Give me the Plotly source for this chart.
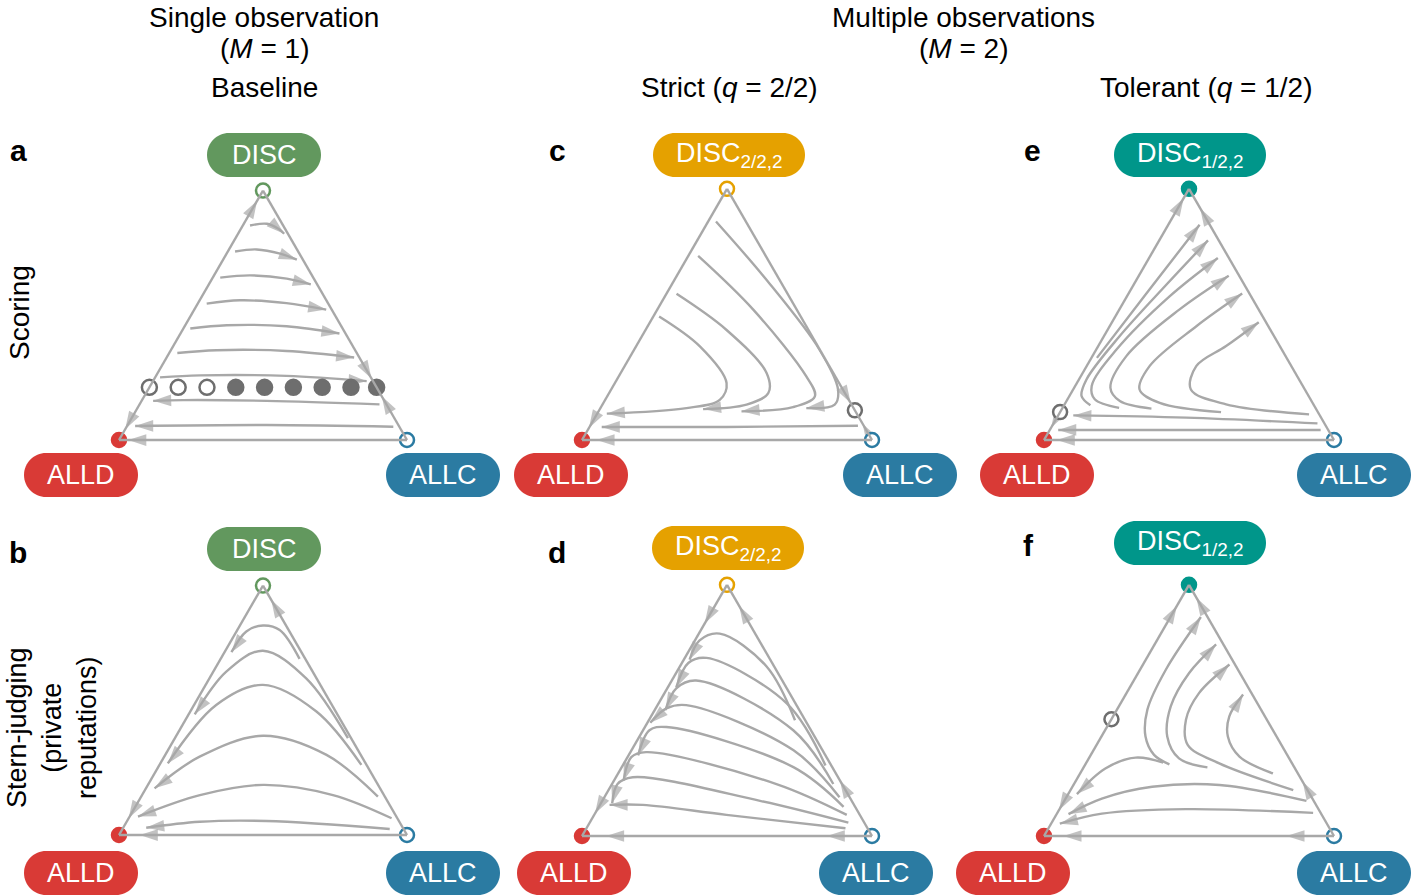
import math
import plotly.graph_objects as go

# ---------------- data: points given as (DISC, ALLC) frequencies; ALLD = 1 - DISC - ALLC
A_LINES = [
    [(0.860, 0.025), (0.867, 0.080), (0.847, 0.130), (0.827, 0.160)],
    [(0.756, 0.025), (0.764, 0.096), (0.747, 0.186), (0.723, 0.256)],
    [(0.651, 0.026), (0.660, 0.125), (0.647, 0.259), (0.624, 0.354)],
    [(0.547, 0.031), (0.560, 0.140), (0.549, 0.307), (0.523, 0.458)],
    [(0.447, 0.024), (0.460, 0.144), (0.456, 0.354), (0.427, 0.552)],
    [(0.349, 0.028), (0.360, 0.159), (0.357, 0.403), (0.331, 0.651)],
    [(0.251, 0.017), (0.259, 0.152), (0.257, 0.453), (0.236, 0.742)],
    [(0.143, 0.833), (0.157, 0.434), (0.160, 0.143), (0.157, 0.040)],
    [(0.053, 0.926), (0.060, 0.483), (0.056, 0.028)],
]
A_EDGE = [((0.90, 0.0), (0.96, 0.0)), ((0.10, 0.0), (0.043, 0.0)),
          ((0.30, 0.70), (0.247, 0.753)), ((0.12, 0.88), (0.175, 0.825)),
          ((0.0, 0.10), (0.0, 0.032))]
A_FIX_DISC = 0.211
A_FIX_ALLC = [0.0, 0.1, 0.2, 0.3, 0.4, 0.5, 0.6, 0.7, 0.789]
A_FIX_STABLE = [False, False, False, True, True, True, True, True, True]

B_LINES = [
    [(0.706, 0.274), (0.822, 0.147), (0.840, 0.080), (0.816, 0.034), (0.733, 0.024)],
    [(0.388, 0.601), (0.628, 0.336), (0.739, 0.130), (0.655, 0.045), (0.484, 0.021)],
    [(0.281, 0.701), (0.495, 0.438), (0.602, 0.199), (0.521, 0.077), (0.287, 0.026)],
    [(0.154, 0.822), (0.321, 0.560), (0.398, 0.301), (0.314, 0.123), (0.187, 0.030)],
    [(0.067, 0.913), (0.160, 0.663), (0.201, 0.400), (0.160, 0.201), (0.074, 0.029)],
    [(0.024, 0.928), (0.056, 0.484), (0.053, 0.254), (0.029, 0.080)],
]
B_EDGE = [((0.90, 0.10), (0.943, 0.057)), ((0.12, 0.0), (0.067, 0.0)),
          ((0.0, 0.14), (0.0, 0.072))]

C_LINES = [
    [(0.492, 0.020), (0.373, 0.220), (0.227, 0.385), (0.160, 0.395), (0.127, 0.297), (0.105, 0.033)],
    [(0.582, 0.035), (0.439, 0.278), (0.267, 0.503), (0.187, 0.549), (0.141, 0.497), (0.123, 0.356)],
    [(0.733, 0.034), (0.519, 0.331), (0.253, 0.647), (0.174, 0.716), (0.131, 0.662), (0.114, 0.493)],
    [(0.870, 0.027), (0.638, 0.317), (0.359, 0.640), (0.200, 0.783), (0.141, 0.801), (0.127, 0.710)],
    [(0.057, 0.923), (0.052, 0.472), (0.052, 0.042)],
]
C_EDGE = [((0.20, 0.80), (0.147, 0.853)), ((0.03, 0.97), (0.065, 0.935)),
          ((0.10, 0.0), (0.048, 0.0)), ((0.0, 0.12), (0.0, 0.05))]
C_SADDLE = (0.118, 0.882)

E_LINES = [
    [(0.327, 0.019), (0.592, 0.063), (0.857, 0.108)],
    [(0.138, 0.091), (0.175, 0.042), (0.241, 0.026), (0.413, 0.054), (0.619, 0.113), (0.795, 0.168)],
    [(0.128, 0.195), (0.162, 0.094), (0.215, 0.057), (0.360, 0.070), (0.572, 0.147), (0.725, 0.237)],
    [(0.125, 0.308), (0.155, 0.184), (0.208, 0.125), (0.334, 0.117), (0.519, 0.207), (0.654, 0.310)],
    [(0.111, 0.555), (0.148, 0.325), (0.201, 0.229), (0.294, 0.217), (0.453, 0.299), (0.583, 0.392)],
    [(0.102, 0.863), (0.142, 0.557), (0.201, 0.406), (0.294, 0.378), (0.374, 0.441), (0.469, 0.506)],
    [(0.066, 0.910), (0.089, 0.446), (0.098, 0.052)],
    [(0.040, 0.934), (0.040, 0.470), (0.040, 0.029)],
]
E_EDGE = [((0.90, 0.0), (0.963, 0.0)), ((0.09, 0.0), (0.049, 0.0)),
          ((0.88, 0.12), (0.923, 0.077)), ((0.0, 0.10), (0.0, 0.044))]
E_SADDLE = (0.111, 0.0)

D_LINES = [
    [(0.461, 0.504), (0.675, 0.299), (0.806, 0.072), (0.779, 0.016), (0.702, 0.020)],
    [(0.281, 0.699), (0.528, 0.442), (0.709, 0.075), (0.689, 0.022), (0.592, 0.029)],
    [(0.207, 0.763), (0.421, 0.518), (0.619, 0.084), (0.588, 0.031), (0.501, 0.037)],
    [(0.154, 0.811), (0.341, 0.559), (0.521, 0.099), (0.508, 0.037), (0.451, 0.010)],
    [(0.116, 0.844), (0.274, 0.592), (0.434, 0.074), (0.421, 0.022), (0.321, 0.033)],
    [(0.084, 0.871), (0.207, 0.567), (0.334, 0.054), (0.314, 0.013), (0.221, 0.033)],
    [(0.053, 0.892), (0.140, 0.544), (0.234, 0.058), (0.207, 0.019), (0.130, 0.039)],
    [(0.031, 0.893), (0.084, 0.456), (0.124, 0.148), (0.124, 0.033)],
]
D_EDGE = [((0.87, 0.13), (0.916, 0.084)), ((0.17, 0.83), (0.221, 0.779)),
          ((0.90, 0.0), (0.846, 0.0)), ((0.14, 0.0), (0.090, 0.0)),
          ((0.0, 0.90), (0.0, 0.844)), ((0.0, 0.13), (0.0, 0.083))]

F_LINES = [
    [(0.285, 0.290), (0.323, 0.218), (0.396, 0.152), (0.503, 0.105), (0.663, 0.089), (0.872, 0.105)],
    [(0.273, 0.427), (0.309, 0.311), (0.396, 0.227), (0.516, 0.179), (0.649, 0.176), (0.763, 0.212)],
    [(0.183, 0.768), (0.289, 0.460), (0.363, 0.314), (0.463, 0.258), (0.569, 0.250), (0.683, 0.298)],
    [(0.249, 0.665), (0.316, 0.516), (0.396, 0.436), (0.476, 0.401), (0.563, 0.405)],
    [(0.292, 0.265), (0.312, 0.160), (0.269, 0.077), (0.167, 0.030)],
    [(0.140, 0.835), (0.203, 0.504), (0.196, 0.275), (0.149, 0.125), (0.087, 0.041)],
    [(0.092, 0.882), (0.107, 0.436), (0.089, 0.155), (0.049, 0.030)],
]
F_EDGE = [((0.87, 0.0), (0.916, 0.0)), ((0.15, 0.0), (0.103, 0.0)),
          ((0.90, 0.10), (0.949, 0.051)), ((0.17, 0.83), (0.216, 0.784)),
          ((0.0, 0.88), (0.0, 0.836)), ((0.0, 0.11), (0.0, 0.067))]
F_SADDLE = (0.465, 0.0)

# vertex state: True = stable (filled), False = unstable (open); order DISC, ALLD, ALLC
A_VERT = [False, True, False]
B_VERT = [False, True, False]
C_VERT = [False, True, False]
D_VERT = [False, True, False]
E_VERT = [True, True, False]
F_VERT = [True, True, False]

DISC_LABELS = ['DISC', 'DISC', 'DISC<sub>2/2,2</sub>', 'DISC<sub>2/2,2</sub>',
               'DISC<sub>1/2,2</sub>', 'DISC<sub>1/2,2</sub>']

# ---------------- styling
W, H = 1412, 896
GRAY = '#a8a8a8'
FIXC = '#6e6e6e'
RED = '#d93a36'
BLUE = '#2b7ba2'
DISC_COLORS = ['#62985e', '#62985e', '#e5a100', '#e5a100', '#00968a', '#00968a']
FONT = 'Liberation Sans, Arial, sans-serif'
ARROW = 19

# panel geometry (pixels): left-bottom vertex x, base y, base width
GEOM = {
    'ternary':  (119, 440, 288),
    'ternary2': (119, 835, 288),
    'ternary3': (582, 440, 290),
    'ternary4': (582, 836, 290),
    'ternary5': (1044, 440, 290),
    'ternary6': (1044, 836, 290),
}


def domain(lx, yb, base):
    h = base * math.sqrt(3) / 2
    yc = yb - h / 2
    hb = h + 8
    return dict(x=[lx / W, (lx + base) / W], y=[1 - (yc + hb / 2) / H, 1 - (yc - hb / 2) / H])


def abc(pts):
    a = [p[0] for p in pts]
    c = [p[1] for p in pts]
    b = [max(0.0, 1 - p[0] - p[1]) for p in pts]
    return a, b, c


fig = go.Figure()

panels = [
    ('ternary', A_LINES, A_EDGE, A_VERT, None, 0),
    ('ternary2', B_LINES, B_EDGE, B_VERT, None, 1),
    ('ternary3', C_LINES, C_EDGE, C_VERT, C_SADDLE, 2),
    ('ternary4', D_LINES, D_EDGE, D_VERT, None, 3),
    ('ternary5', E_LINES, E_EDGE, E_VERT, E_SADDLE, 4),
    ('ternary6', F_LINES, F_EDGE, F_VERT, F_SADDLE, 5),
]

for sub, lines, edges, verts, saddle, idx in panels:
    for ln in lines:
        a, b, c = abc(ln)
        fig.add_trace(go.Scatterternary(a=a, b=b, c=c, mode='lines', subplot=sub,
                                        line=dict(color=GRAY, width=2.4, shape='spline', smoothing=1.0),
                                        hoverinfo='skip', showlegend=False))
    # arrowheads: one pair (tail, head) per streamline end and per edge arrow
    pairs = [(ln[-2], ln[-1]) for ln in lines] + list(edges)
    pts, sizes = [], []
    for t, hd in pairs:
        pts += [t, hd]
        sizes += [0, ARROW]
    a, b, c = abc(pts)
    fig.add_trace(go.Scatterternary(a=a, b=b, c=c, mode='markers', subplot=sub, cliponaxis=False,
                                    marker=dict(symbol='arrow', size=sizes, color=GRAY,
                                                angleref='previous', line=dict(width=0)),
                                    hoverinfo='skip', showlegend=False))
    # extra fixed points
    if idx == 0:
        pts = [(A_FIX_DISC, x) for x in A_FIX_ALLC]
        a, b, c = abc(pts)
        fig.add_trace(go.Scatterternary(a=a, b=b, c=c, mode='markers', subplot=sub, cliponaxis=False,
                                        marker=dict(size=15, symbol='circle',
                                                    color=[FIXC if s else 'white' for s in A_FIX_STABLE],
                                                    line=dict(color=FIXC, width=2.5)),
                                        hoverinfo='skip', showlegend=False))
    if saddle is not None:
        a, b, c = abc([saddle])
        fig.add_trace(go.Scatterternary(a=a, b=b, c=c, mode='markers', subplot=sub, cliponaxis=False,
                                        marker=dict(size=14, color='white', line=dict(color=FIXC, width=2.5)),
                                        hoverinfo='skip', showlegend=False))
    # vertices DISC, ALLD, ALLC
    vcols = [DISC_COLORS[idx], RED, BLUE]
    fig.add_trace(go.Scatterternary(a=[1, 0, 0], b=[0, 1, 0], c=[0, 0, 1], mode='markers', subplot=sub,
                                    cliponaxis=False,
                                    marker=dict(size=14, color=[vc if s else 'white' for vc, s in zip(vcols, verts)],
                                                line=dict(color=vcols, width=2.5)),
                                    hoverinfo='skip', showlegend=False))

axis_style = dict(showline=True, linecolor=GRAY, linewidth=2.4, showgrid=False,
                  showticklabels=False, ticks='', title=dict(text=''))
layout_tern = {}
for sub, (lx, yb, base) in GEOM.items():
    layout_tern[sub] = dict(domain=domain(lx, yb, base), sum=1, bgcolor='rgba(0,0,0,0)',
                            aaxis=axis_style, baxis=axis_style, caxis=axis_style)


def pill(w, h):
    r = h / 2
    s = w / 2 - r
    k = 0.5523 * r
    return (f"M{-s},{-r} L{s},{-r} C{s + k},{-r} {s + r},{-k} {s + r},0 "
            f"C{s + r},{k} {s + k},{r} {s},{r} L{-s},{r} C{-s - k},{r} {-s - r},{k} {-s - r},0 "
            f"C{-s - r},{-k} {-s - k},{-r} {-s},{-r} Z")


shapes, annotations = [], []


def add_pill(cx, cy, w, color, text):
    shapes.append(dict(type='path', xref='paper', yref='paper', xsizemode='pixel', ysizemode='pixel',
                       xanchor=cx / W, yanchor=1 - cy / H, path=pill(w, 44),
                       fillcolor=color, line=dict(width=0), layer='above'))
    annotations.append(dict(x=cx / W, y=1 - cy / H, xref='paper', yref='paper', text=text,
                            showarrow=False, xanchor='center', yanchor='middle',
                            font=dict(family=FONT, size=27, color='white')))


top_pills = [(264, 155, 114), (264, 549, 114), (729, 155, 152), (728, 548, 152), (1190, 155, 152), (1190, 543, 152)]
alld_pills = [(81, 475), (81, 873), (571, 475), (574, 873), (1037, 475), (1013, 873)]
allc_pills = [(443, 475), (443, 873), (900, 475), (876, 873), (1354, 475), (1354, 873)]
for i in range(6):
    cx, cy, w = top_pills[i]
    add_pill(cx, cy, w, DISC_COLORS[i], DISC_LABELS[i])
    add_pill(alld_pills[i][0], alld_pills[i][1], 114, RED, 'ALLD')
    add_pill(allc_pills[i][0], allc_pills[i][1], 114, BLUE, 'ALLC')


def txt(x, y, s, size=28, angle=0, bold=False):
    annotations.append(dict(x=x / W, y=1 - y / H, xref='paper', yref='paper',
                            text=f'<b>{s}</b>' if bold else s, showarrow=False,
                            xanchor='center', yanchor='middle', textangle=angle,
                            font=dict(family=FONT, size=size, color='black')))


txt(264, 17, 'Single observation')
txt(264, 48, '(<i>M</i> = 1)')
txt(264, 88, 'Baseline')
txt(963, 17, 'Multiple observations')
txt(963, 48, '(<i>M</i> = 2)')
txt(729, 88, 'Strict (<i>q</i> = 2/2)')
txt(1206, 88, 'Tolerant (<i>q</i> = 1/2)')
txt(19, 313, 'Scoring', angle=-90)
txt(52, 728, 'Stern-judging<br>(private<br>reputations)', size=27, angle=-90)
for letter, x, y in [('a', 18, 150), ('b', 18, 552), ('c', 557, 150), ('d', 557, 552), ('e', 1032, 150), ('f', 1028, 545)]:
    txt(x, y, letter, size=30, bold=True)

fig.update_layout(width=W, height=H, margin=dict(l=0, r=0, t=0, b=0),
                  paper_bgcolor='white', plot_bgcolor='white', showlegend=False,
                  shapes=shapes, annotations=annotations, **layout_tern)

fig.write_html('out.html', config={'displayModeBar': False},
               post_script="document.body.style.margin='0px';document.body.style.overflow='hidden';")
